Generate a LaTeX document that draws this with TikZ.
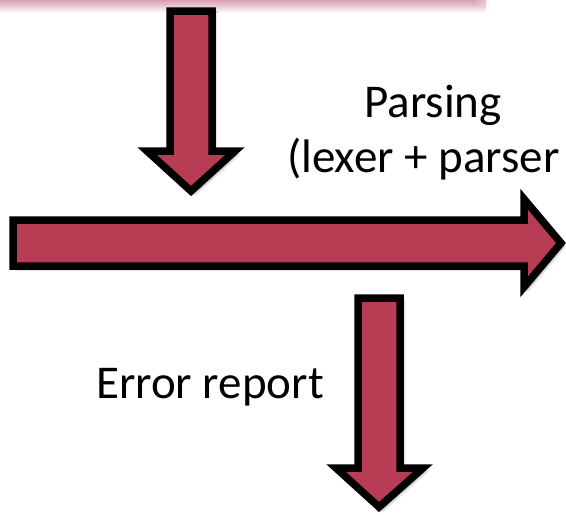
\documentclass[tikz,border=0pt]{standalone}
\usepackage{fontspec}
\setmainfont{Carlito}
\usetikzlibrary{shadows.blur}
\definecolor{arrowred}{RGB}{185,60,85}
\definecolor{glowpink}{RGB}{216,160,176}
\begin{document}
\begin{tikzpicture}[x=1pt,y=-1pt,
  bigarrow/.style={draw=black, line width=7.5pt, miter limit=10, line join=miter, fill=arrowred,
    blur shadow={shadow xshift=3pt, shadow yshift=-3pt, shadow blur steps=6, shadow blur radius=3pt, shadow opacity=40}},
  label/.style={font=\fontsize{47}{56}\selectfont, inner sep=0pt, anchor=base west, text=black}]
\useasboundingbox (0,0) rectangle (566,515);
% glow of the box above the picture
\shade[top color=glowpink, bottom color=white] (0,0) rectangle (486,13);
\shade[left color=glowpink, right color=white, opacity=0.5] (472,0) rectangle (492,5);
% top down arrow
\path[bigarrow] (170,11) -- (212,11) -- (212,151) -- (235,151) -- (191,191) -- (147,151) -- (170,151) -- cycle;
% horizontal arrow
\path[bigarrow] (13,220) -- (524,220) -- (524,199) -- (561,243) -- (524,287) -- (524,266) -- (13,266) -- cycle;
% bottom down arrow
\path[bigarrow] (358,298) -- (400,298) -- (400,468) -- (423,468) -- (379,507) -- (336,468) -- (358,468) -- cycle;
% labels
\node[label] (parsing) at (364,117) {Parsing};
\node[label] (lexer) at (287,172) {(lexer + parser};
\node[label] (error) at (96,398) {Error report};
\end{tikzpicture}
\end{document}
